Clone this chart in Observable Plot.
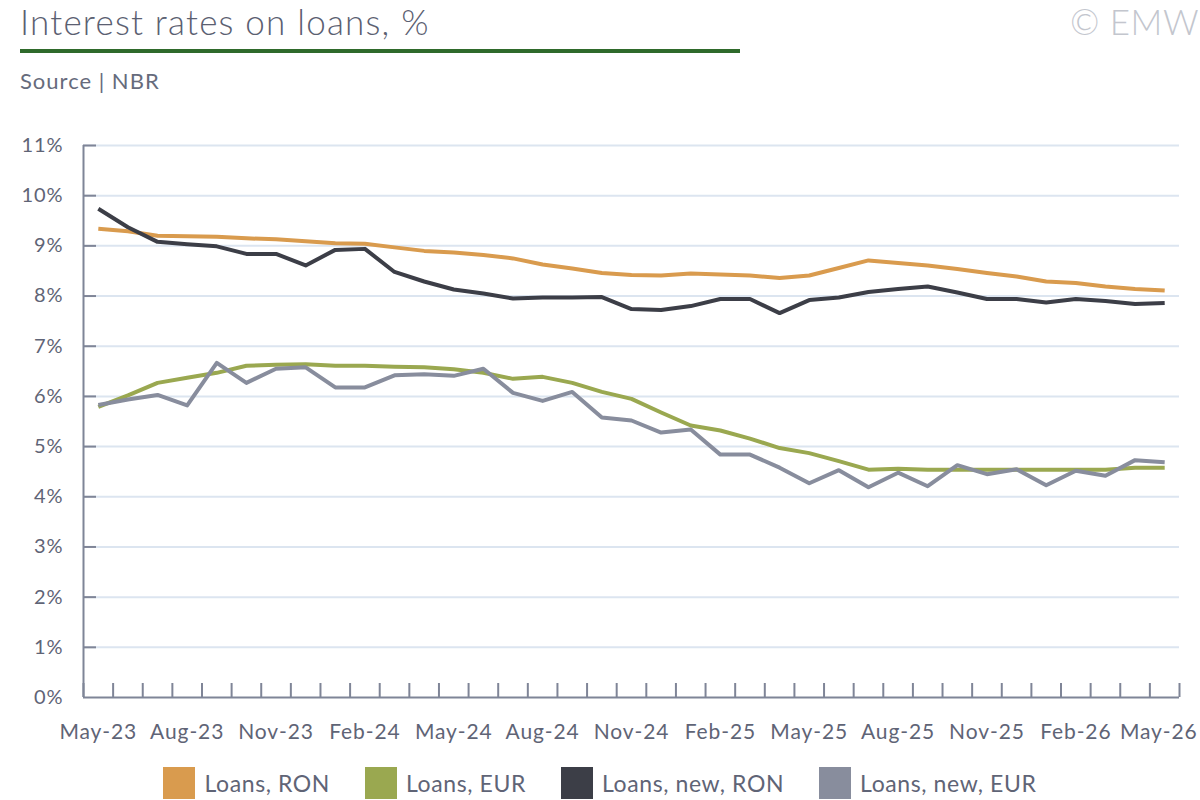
<!DOCTYPE html>
<html>
<head>
<meta charset="utf-8">
<script src="https://cdn.jsdelivr.net/npm/d3@7"></script>
<script src="https://cdn.jsdelivr.net/npm/@observablehq/plot@0.6"></script>
<style>
  html, body { margin: 0; padding: 0; background: #fff; }
  #wrap { position: relative; width: 1200px; height: 800px; overflow: hidden; font-family: Lato, "Open Sans", sans-serif; }
  #title { position: absolute; left: 20px; top: -1px; font-size: 35px; font-weight: 300; letter-spacing: 1.2px; color: #5b6071; line-height: 44px; white-space: nowrap; }
  #rule { position: absolute; left: 20px; top: 49px; width: 720px; height: 4px; background: #2f6a2b; }
  #source { position: absolute; left: 20px; top: 67px; font-size: 22px; font-weight: 400; letter-spacing: 1px; color: #666b7c; line-height: 28px; }
  #copy { position: absolute; right: 1px; top: -1px; font-size: 35px; font-weight: 300; letter-spacing: 0.5px; color: #c3c6ce; line-height: 44px; white-space: nowrap; }
  #chart { position: absolute; left: 0; top: 120px; }
  #chart svg text { letter-spacing: 0.9px; }
  #legend { position: absolute; left: 0; top: 767px; width: 1200px; display: flex; justify-content: center; gap: 35px; }
  .item { display: flex; align-items: center; font-size: 23px; font-weight: 400; letter-spacing: 0.6px; color: #5f6476; }
  .sw { width: 32px; height: 32px; margin-right: 9px; }
</style>
</head>
<body>
<div id="wrap">
  <div id="title">Interest rates on loans, %</div>
  <div id="rule"></div>
  <div id="source">Source | NBR</div>
  <div id="copy">© EMW</div>
  <div id="chart"></div>
  <div id="legend"></div>
</div>
<script>
const months = ["May-23","Jun-23","Jul-23","Aug-23","Sep-23","Oct-23","Nov-23","Dec-23","Jan-24","Feb-24",
  "Mar-24","Apr-24","May-24","Jun-24","Jul-24","Aug-24","Sep-24","Oct-24","Nov-24","Dec-24",
  "Jan-25","Feb-25","Mar-25","Apr-25","May-25","Jun-25","Jul-25","Aug-25","Sep-25","Oct-25",
  "Nov-25","Dec-25","Jan-26","Feb-26","Mar-26","Apr-26","May-26"];

const seriesNames = ["Loans, RON", "Loans, EUR", "Loans, new, RON", "Loans, new, EUR"];
const seriesColors = ["#d99b4e", "#9aa850", "#3c3e47", "#888d9d"];

const loansRON = [9.34, 9.29, 9.20, 9.19, 9.18, 9.15, 9.13, 9.09, 9.05, 9.04,
  8.97, 8.90, 8.87, 8.82, 8.75, 8.63, 8.55, 8.46, 8.42, 8.41,
  8.45, 8.43, 8.41, 8.36, 8.41, 8.56, 8.71, 8.66, 8.61, 8.54,
  8.46, 8.39, 8.29, 8.26, 8.19, 8.14, 8.11];
const loansEUR = [5.79, 6.02, 6.27, 6.37, 6.47, 6.61, 6.63, 6.64, 6.61, 6.61,
  6.59, 6.58, 6.54, 6.47, 6.35, 6.39, 6.27, 6.09, 5.95, 5.68,
  5.42, 5.32, 5.16, 4.97, 4.87, 4.71, 4.54, 4.56, 4.54, 4.54,
  4.54, 4.54, 4.54, 4.54, 4.54, 4.58, 4.58];
const loansNewRON = [9.74, 9.37, 9.08, 9.03, 8.99, 8.84, 8.84, 8.61, 8.92, 8.94,
  8.48, 8.29, 8.13, 8.05, 7.95, 7.97, 7.97, 7.98, 7.74, 7.72,
  7.80, 7.94, 7.94, 7.66, 7.92, 7.97, 8.08, 8.14, 8.19, 8.07,
  7.94, 7.94, 7.87, 7.94, 7.90, 7.84, 7.86];
const loansNewEUR = [5.83, 5.94, 6.03, 5.82, 6.67, 6.27, 6.55, 6.58, 6.18, 6.18,
  6.42, 6.44, 6.41, 6.55, 6.07, 5.91, 6.09, 5.58, 5.52, 5.28,
  5.34, 4.84, 4.84, 4.58, 4.27, 4.53, 4.19, 4.48, 4.21, 4.63,
  4.45, 4.55, 4.23, 4.52, 4.42, 4.73, 4.69];

const yTicks = [0,1,2,3,4,5,6,7,8,9,10,11];
const xLabelIdx = [0,3,6,9,12,15,18,21,24,27,30,33];
const xLastLabelIdx = [36];

const allSeries = [loansRON, loansEUR, loansNewRON, loansNewEUR];
const rows = [];
allSeries.forEach((arr, s) => arr.forEach((v, i) => rows.push({i, v, series: seriesNames[s]})));

const W = 1200, H = 640, mT = 25, mB = 63, mL = 83, mR = 21;
const plotW = W - mL - mR, plotH = H - mT - mB;
const axisColor = "#7f8597";
const textColor = "#5f6476";
const bounds = d3.range(months.length + 1).map(k => k - 0.5);

const chart = Plot.plot({
  width: W, height: H,
  marginTop: mT, marginBottom: mB, marginLeft: mL, marginRight: mR,
  style: {fontFamily: "Lato, 'Open Sans', sans-serif", fontSize: "20px", color: textColor, background: "transparent", overflow: "visible"},
  x: {type: "linear", domain: [-0.5, months.length - 0.5], axis: null, label: null},
  y: {domain: [0, 11], axis: null, label: null},
  color: {domain: seriesNames, range: seriesColors},
  marks: [
    Plot.gridY(yTicks.filter(d => d > 0), {stroke: "#dce5f0", strokeOpacity: 1, strokeWidth: 2}),
    Plot.tickY(yTicks.filter(d => d > 0), {y: d => d, stroke: axisColor, strokeWidth: 2, insetRight: plotW - 13}),
    Plot.tickX(bounds, {x: d => d, stroke: axisColor, strokeWidth: 2, insetTop: plotH - 14}),
    Plot.ruleX([-0.5], {stroke: axisColor, strokeWidth: 2}),
    Plot.ruleY([0], {stroke: axisColor, strokeWidth: 2}),
    Plot.axisY({ticks: yTicks, tickFormat: d => d + "%", tickSize: 0, tickPadding: 20, fontSize: 20, label: null}),
    Plot.axisX({ticks: xLabelIdx, tickFormat: i => months[i], tickSize: 0, tickPadding: 27, fontSize: 21, label: null}),
    Plot.axisX({ticks: xLastLabelIdx, tickFormat: i => months[i], tickSize: 0, tickPadding: 27, fontSize: 21, label: null, textAnchor: "end", dx: 33}),
    Plot.line(rows, {x: "i", y: "v", z: "series", stroke: "series", strokeWidth: 4, strokeLinejoin: "round", strokeLinecap: "butt"})
  ]
});
document.getElementById("chart").appendChild(chart);

const legend = document.getElementById("legend");
seriesNames.forEach((n, k) => {
  const it = document.createElement("div");
  it.className = "item";
  const sw = document.createElement("div");
  sw.className = "sw";
  sw.style.background = seriesColors[k];
  const t = document.createElement("span");
  t.textContent = n;
  it.appendChild(sw); it.appendChild(t);
  legend.appendChild(it);
});
</script>
</body>
</html>
